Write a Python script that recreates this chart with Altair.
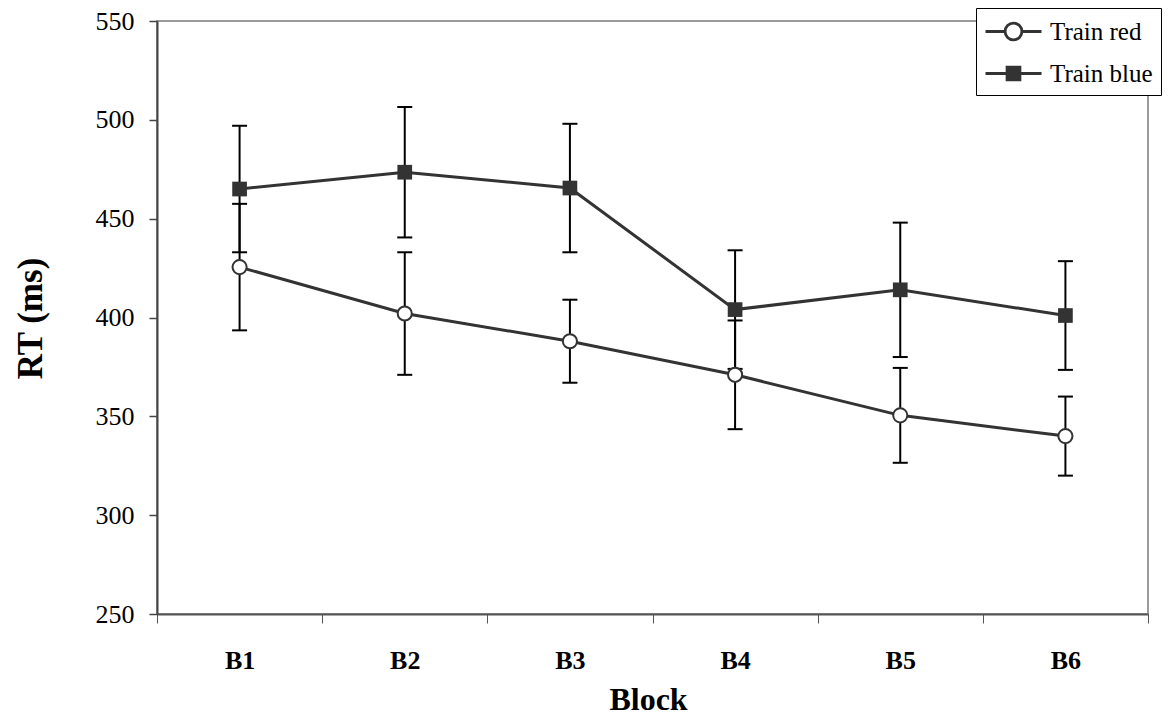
import altair as alt
import pandas as pd

blocks = ["B1", "B2", "B3", "B4", "B5", "B6"]
series_names = ["Train red", "Train blue"]
red_rt = [425.5, 402, 388, 371, 350.5, 340]
red_err = [32, 31, 21, 27.5, 24, 20]
blue_rt = [465, 473.5, 465.5, 404, 414, 401]
blue_err = [32, 33, 32.5, 30, 34, 27.5]
y_ticks = [250, 300, 350, 400, 450, 500, 550]

rows = []
for name, rts, errs in [("Train red", red_rt, red_err), ("Train blue", blue_rt, blue_err)]:
    for b, v, e in zip(blocks, rts, errs):
        rows.append({"block": b, "series": name, "rt": v, "lo": v - e, "hi": v + e})
df = pd.DataFrame(rows)

FONT = "Liberation Serif"
DARK = "#333333"

x = alt.X("block:N", sort=blocks,
          scale=alt.Scale(domain=blocks, paddingInner=0, paddingOuter=0),
          axis=alt.Axis(title="Block", tickBand="extent", labelAngle=0,
                        labelFont=FONT, labelFontSize=26, labelFontWeight="bold",
                        labelColor="black", labelBaseline="alphabetic", labelPadding=45,
                        tickSize=9, tickColor="#555555", tickWidth=1,
                        domainColor="#555555", domainWidth=2,
                        titleFont=FONT, titleFontSize=32, titleFontWeight="bold",
                        titleColor="black", titleX=491, titleY=95,
                        titleBaseline="alphabetic", titleAlign="center"))
yscale = alt.Scale(domain=[250, 550], nice=False, zero=False)
y = alt.Y("rt:Q", scale=yscale,
          axis=alt.Axis(title="RT (ms)", values=y_ticks, grid=False,
                        labelFont=FONT, labelFontSize=26, labelColor="black",
                        labelPadding=15, tickSize=8, tickColor="#444444", tickWidth=1.5,
                        domainColor="#444444", domainWidth=2,
                        titleFont=FONT, titleFontSize=35, titleFontWeight="bold",
                        titleColor="black", titleAngle=-90, titleX=-127, titleY=297,
                        titleBaseline="middle", titleAlign="center"))

base = alt.Chart(df)

bars = base.mark_rule(color="black", strokeWidth=2).encode(
    x=x, y=alt.Y("lo:Q", scale=yscale), y2="hi:Q")
cap_lo = base.mark_tick(color="black", orient="horizontal", size=15, thickness=2, opacity=1).encode(
    x=x, y=alt.Y("lo:Q", scale=yscale))
cap_hi = base.mark_tick(color="black", orient="horizontal", size=15, thickness=2, opacity=1).encode(
    x=x, y=alt.Y("hi:Q", scale=yscale))
lines = base.mark_line(color=DARK, strokeWidth=3).encode(x=x, y=y, detail="series:N")
red_pts = base.transform_filter(alt.datum.series == "Train red").mark_point(
    shape="circle", filled=True, fill="white", stroke=DARK, strokeWidth=2, size=200, opacity=1
).encode(x=x, y=y)
blue_pts = base.transform_filter(alt.datum.series == "Train blue").mark_point(
    shape="square", filled=True, color=DARK, size=216, opacity=1
).encode(x=x, y=y)

# legend symbols: a line with a marker, drawn in units of r = sqrt(size)/2 = 14 px
circle_path = "M-1,0H0.4M1.6,0H3M1.6,0A0.6,0.6,0,1,1,0.4,0A0.6,0.6,0,1,1,1.6,0Z"
square_path = "M-1,0H0.54M1.46,0H3M0.54,-0.46H1.46V0.46H0.54Z"

leg = alt.Legend(
    title=None, orient="none", legendX=819, legendY=-13,
    strokeColor="black", fillColor="white", padding=8,
    symbolSize=784, symbolStrokeWidth=2.8, symbolOpacity=1,
    labelFont=FONT, labelFontSize=25, labelColor="black", labelOffset=35,
    rowPadding=12, labelLimit=300,
)

legend_layer = base.transform_filter("false").mark_point(
    filled=True, strokeWidth=2.8, opacity=1
).encode(
    x=x, y=y,
    shape=alt.Shape("series:N", scale=alt.Scale(domain=series_names, range=[circle_path, square_path]),
                    legend=leg),
    fill=alt.Fill("series:N", scale=alt.Scale(domain=series_names, range=["white", DARK]),
                  legend=leg),
    stroke=alt.Stroke("series:N", scale=alt.Scale(domain=series_names, range=[DARK, DARK]),
                      legend=leg),
)

chart = alt.layer(bars, cap_lo, cap_hi, lines, red_pts, blue_pts, legend_layer).properties(
    width=991, height=593, autosize="none",
    padding={"left": 149, "top": 13, "right": 14, "bottom": 103},
).configure_view(stroke="#9a9a9a", strokeWidth=2)

chart.save("out.html", embed_options={"renderer": "svg", "actions": False})
